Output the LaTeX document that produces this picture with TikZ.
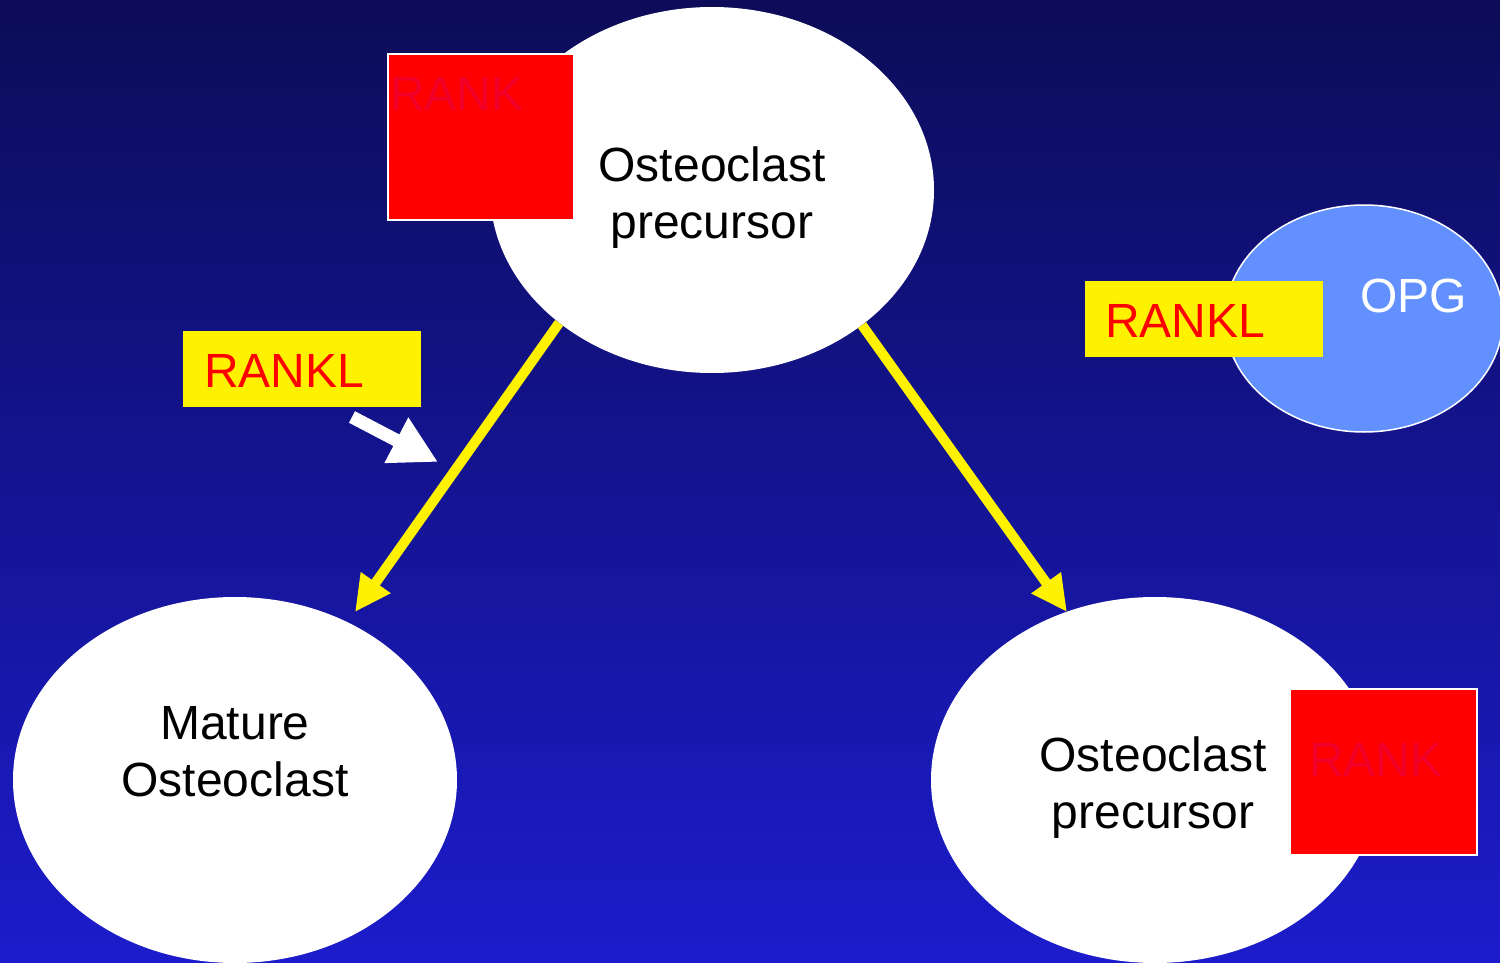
\documentclass[tikz,border=0pt]{standalone}
\usepackage{fontspec}
\setmainfont{Liberation Sans}
\usetikzlibrary{shapes.geometric,arrows.meta}
\definecolor{bgtop}{RGB}{12,12,88}
\definecolor{bgbot}{RGB}{28,28,204}
\definecolor{opgblue}{RGB}{98,145,255}
\definecolor{ranktext}{RGB}{242,0,42}
\begin{document}
\begin{tikzpicture}[x=1pt,y=-1pt,
  bigfont/.style={font=\fontsize{48}{57}\selectfont},
  cell/.style={ellipse, fill=white, inner sep=0pt, minimum width=444pt, minimum height=366pt},
  celltext/.style={bigfont, align=center, text=black, inner sep=0pt},
  rankbox/.style={draw=white, line width=1.5pt, fill=red, text=ranktext, inner sep=0pt, bigfont, align=left},
  ranklbox/.style={fill=yellow, text=red, inner sep=0pt, bigfont, align=left, text width=238pt, text height=56pt, text depth=20pt},
  yarrow/.style={draw=yellow, line width=10pt, -{Triangle[length=36pt,width=34pt]}},
  warrow/.style={draw=white, line width=13pt, -{Triangle[length=47pt,width=48pt]}}
]
\useasboundingbox (0,0) rectangle (1500,963);
\clip (0,0) rectangle (1500,963);
\shade[top color=bgtop, bottom color=bgbot] (0,0) rectangle (1500,963);

% cells
\node[cell] (top) at (712,190) {};
\node[cell] (mature) at (235,780) {};
\node[cell, minimum width=448pt] (prec) at (1155,780) {};
\node[celltext] (toptxt) at (712,198) {Osteoclast\\precursor};
\node[celltext] (mattxt) at (235,752) {Mature\\Osteoclast};
\node[celltext] (prectxt) at (1153,788) {Osteoclast\\precursor};

% RANK receptors
\node[rankbox, text width=186pt, text height=57pt, text depth=109pt] (rank1) at (481,137) {\hspace*{2pt}RANK};
\node[rankbox, text width=187pt, text height=87pt, text depth=79pt] (rank2) at (1383.5,772) {\hspace*{19pt}RANK};

% arrows
\coordinate (tipL) at (355,612);
\coordinate (tipR) at (1067,612);
\draw[yarrow] (top.221.5) -- (tipL);
\draw[yarrow] (top.318) -- (tipR);

\coordinate (wa1) at (352,417);
\coordinate (wa2) at (438,462);
\draw[warrow] (wa1) -- (wa2);

% RANKL
\node[ranklbox] (rankl1) at (302,369) {\hspace*{21pt}RANKL};

% OPG
\node[ellipse, fill=opgblue, draw=white, line width=1.5pt, minimum width=278pt, minimum height=227pt, inner sep=0pt] (opg) at (1364,318.5) {};
\node[bigfont, text=white, anchor=base west, inner sep=0pt] (opgtxt) at (1360,312) {OPG};
\node[ranklbox] (rankl2) at (1204,319) {\hspace*{20pt}RANKL};
\end{tikzpicture}
\end{document}
